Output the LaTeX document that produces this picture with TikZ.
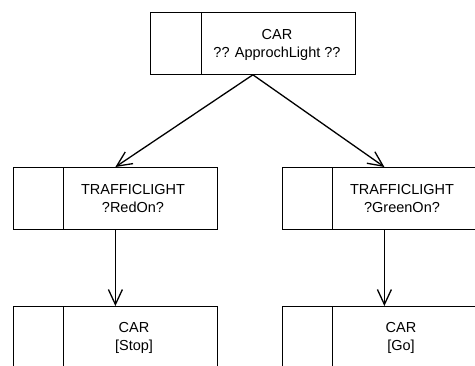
\documentclass[tikz,border=0pt]{standalone}
\usepackage{fontspec}
\setmainfont{Liberation Sans}
\usetikzlibrary{arrows.meta}
\begin{document}
\begin{tikzpicture}[x=1pt,y=-1pt,
  box/.style={draw, line width=0.8pt, rectangle, minimum width=204pt, minimum height=62pt, inner sep=0pt, anchor=north west},
  divider/.style={line width=0.8pt},
  lbl/.style={font=\fontsize{14.5}{18}\selectfont, align=center, inner sep=0pt, anchor=north},
  arr/.style={line width=1.3pt, -{Straight Barb[length=15pt,width=14pt,line width=1.3pt]}}]
\useasboundingbox (0,0) rectangle (475,365);
\clip (0,0) rectangle (475,365);
% boxes
\node[box, minimum width=205pt] (top) at (150,12) {};
\node[box] (redL) at (13,167) {};
\node[box] (greenR) at (282,167) {};
\node[box] (stopB) at (13,306) {};
\node[box] (goB) at (282,306) {};
% dividers
\draw[divider] ([xshift=51pt]top.north west) -- ([xshift=51pt]top.south west);
\draw[divider] ([xshift=50pt]redL.north west) -- ([xshift=50pt]redL.south west);
\draw[divider] ([xshift=50pt]greenR.north west) -- ([xshift=50pt]greenR.south west);
\draw[divider] ([xshift=50pt]stopB.north west) -- ([xshift=50pt]stopB.south west);
\draw[divider] ([xshift=50pt]goB.north west) -- ([xshift=50pt]goB.south west);
% labels
\node[lbl] (topT) at (277,29.5) {CAR\\?? ApprochLight ??};
\node[lbl] (redT) at (133,184.5) {TRAFFICLIGHT\\?RedOn?};
\node[lbl] (greenT) at (402,184.5) {TRAFFICLIGHT\\?GreenOn?};
\node[lbl] (stopT) at (134,322.5) {CAR\\{[Stop]}};
\node[lbl] (goT) at (401,322.5) {CAR\\{[Go]}};
% connectors
\draw[arr] (top.south) -- (redL.north);
\draw[arr] (top.south) -- (greenR.north);
\draw[arr] (redL.south) -- (stopB.north);
\draw[arr] (greenR.south) -- (goB.north);
\end{tikzpicture}
\end{document}
